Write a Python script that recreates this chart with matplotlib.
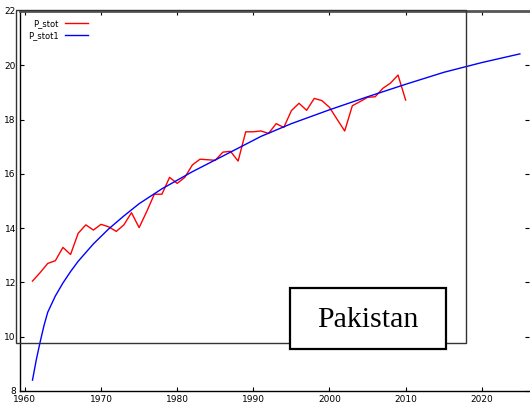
import numpy as np
import matplotlib
matplotlib.use('Agg')
import matplotlib.pyplot as plt
from matplotlib.patches import Rectangle

plt.rcParams['font.family'] = 'DejaVu Sans'

# observed series, one value per year
years = list(range(1961, 2011))
p_stot = [12.05, 12.36, 12.70, 12.80, 13.29, 13.03, 13.81, 14.12, 13.93, 14.14,
          14.05, 13.88, 14.12, 14.57, 14.02, 14.61, 15.25, 15.25, 15.87, 15.65,
          15.87, 16.33, 16.54, 16.52, 16.50, 16.80, 16.83, 16.47, 17.55, 17.55,
          17.58, 17.49, 17.85, 17.71, 18.33, 18.60, 18.34, 18.78, 18.70, 18.45,
          18.01, 17.58, 18.51, 18.66, 18.82, 18.84, 19.15, 19.34, 19.64, 18.72]

# fitted trend, extended past the data
fit_years = [1961, 1961.5, 1962, 1962.5, 1963, 1964, 1965, 1966, 1967, 1969, 1971,
             1973, 1975, 1978, 1982, 1987, 1991, 1995, 2000, 2005, 2010,
             2015, 2020, 2025]
p_stot1 = [8.40, 9.15, 9.80, 10.40, 10.90, 11.50, 11.98, 12.40, 12.78, 13.42, 13.97,
           14.45, 14.90, 15.45, 16.08, 16.80, 17.38, 17.85, 18.36, 18.84, 19.30,
           19.74, 20.10, 20.42]

W, H = 530, 412
fig = plt.figure(figsize=(W / 100, H / 100), dpi=100)
ax = fig.add_axes([20 / W, 1 - 391 / H, 509 / W, 380 / H])

ax.plot(years, p_stot, color='#ff0000', lw=1.0, label='P_stot')
ax.plot(fit_years, p_stot1, color='#0000ff', lw=1.0, label='P_stot1')

ax.set_xlim(1959.36, 2026.2)
ax.set_ylim(8, 22)
ax.set_xticks([1960, 1970, 1980, 1990, 2000, 2010, 2020])
ax.set_yticks([8, 10, 12, 14, 16, 18, 20, 22])
ax.tick_params(direction='in', length=3, width=0.8, labelsize=6.5, pad=3,
               top=True, right=True)
ax.spines['right'].set_visible(False)
for s in ['left', 'bottom', 'top']:
    ax.spines[s].set_linewidth(1.0)
ax.spines['top'].set_color('#555555')
ax.spines['top'].set_linewidth(2.0)

leg = ax.legend(loc='upper left', bbox_to_anchor=(0.0, 1.0), frameon=False,
                markerfirst=False, fontsize=6, handlelength=2.8,
                handletextpad=0.7, labelspacing=0.35, borderaxespad=0.6)

# inner frame
fig.add_artist(Rectangle((16 / W, 1 - 343 / H), 450 / W, 333 / H,
                         transform=fig.transFigure, fill=False,
                         edgecolor='#333333', lw=1.0))

# country label box
fig.add_artist(Rectangle((290 / W, 1 - 349 / H), 156 / W, 61 / H,
                         transform=fig.transFigure, facecolor='white',
                         edgecolor='black', lw=1.6, zorder=5))
fig.text(368 / W, 1 - 320 / H, 'Pakistan', family='Liberation Serif',
         fontsize=21.5, ha='center', va='center', zorder=6)

fig.savefig('out.png', dpi=100)
